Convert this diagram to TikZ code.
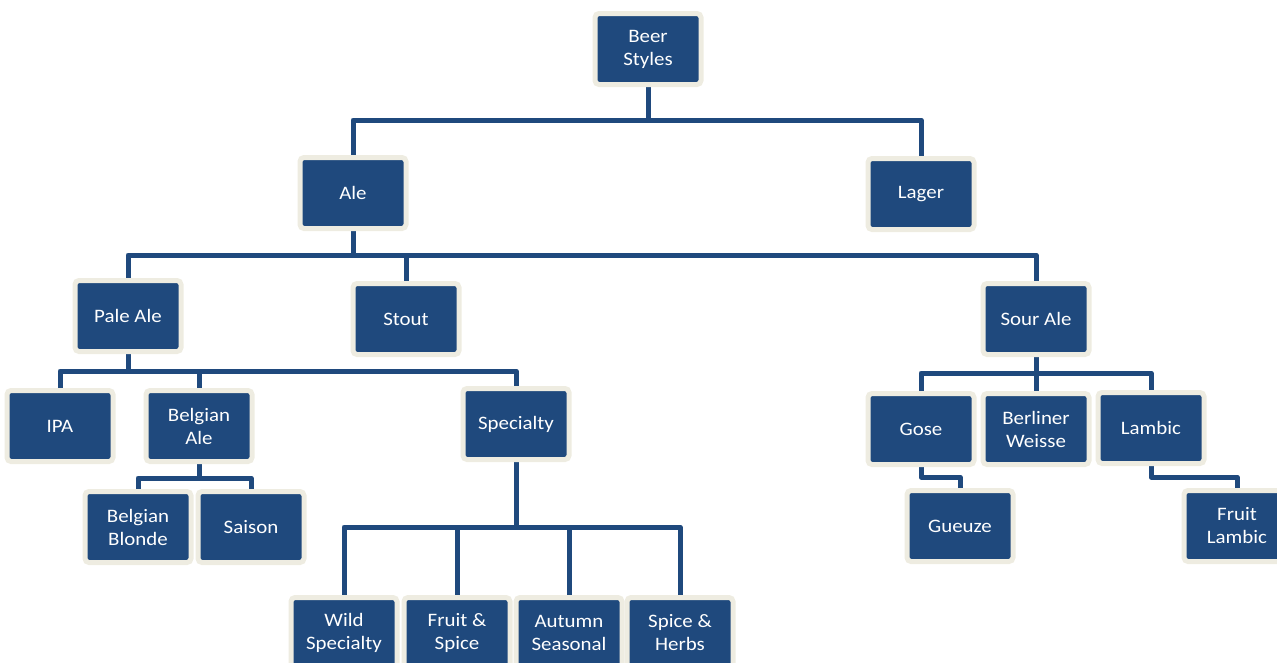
\documentclass[tikz,border=0pt]{standalone}
\usepackage{fontspec}
\setmainfont{Carlito}[FakeStretch=1.1]
\usetikzlibrary{backgrounds}
\definecolor{nodeblue}{HTML}{1F497D}
\definecolor{nodebeige}{HTML}{EEECE1}
\tikzset{
  box/.style={draw=nodebeige, line width=5pt, fill=nodeblue, rounded corners=4pt,
    minimum width=106pt, minimum height=71pt, inner sep=0pt, align=center,
    text=white, font=\fontsize{19}{23}\selectfont},
  conn/.style={draw=nodeblue, line width=5pt, line join=round}
}
\begin{document}
\begin{tikzpicture}[x=1pt,y=-1pt]
\useasboundingbox (0,0) rectangle (1277,662);
% nodes
\node[box] (beer) at (648,49) {Beer\\Styles};
\node[box] (ale) at (353,193) {Ale};
\node[box] (lager) at (921,194) {Lager};
\node[box] (pale) at (128,316) {Pale Ale};
\node[box] (stout) at (406,319) {Stout};
\node[box] (sour) at (1036,319) {Sour Ale};
\node[box] (ipa) at (60,426) {IPA};
\node[box] (belg) at (199,426) {Belgian\\Ale};
\node[box] (spec) at (516,424) {Specialty};
\node[box] (blonde) at (138,527) {Belgian\\Blonde};
\node[box] (saison) at (251,527) {Saison};
\node[box] (wild) at (344,633) {Wild\\Specialty};
\node[box] (fruitspice) at (457,633) {Fruit \&\\Spice};
\node[box] (autumn) at (569,633) {Autumn\\Seasonal};
\node[box] (spiceherbs) at (680,633) {Spice \&\\Herbs};
\node[box] (gose) at (921,429) {Gose};
\node[box] (berliner) at (1036,429) {Berliner\\Weisse};
\node[box] (lambic) at (1151,428) {Lambic};
\node[box] (gueuze) at (960,526) {Gueuze};
\node[box] (fruitlambic) at (1237,526) {Fruit\\Lambic};
% connectors
\begin{scope}[on background layer]
\draw[conn] (beer.south) -- (beer.south |- 0,120) -| (ale.north);
\draw[conn] (beer.south |- 0,120) -| (lager.north);
\draw[conn] (ale.south) -- (ale.south |- 0,255) -| (pale.north);
\draw[conn] (ale.south |- 0,255) -| (stout.north);
\draw[conn] (ale.south |- 0,255) -| (sour.north);
\draw[conn] (pale.south) -- (pale.south |- 0,371) -| (ipa.north);
\draw[conn] (pale.south |- 0,371) -| (belg.north);
\draw[conn] (pale.south |- 0,371) -| (spec.north);
\draw[conn] (belg.south) -- (belg.south |- 0,478) -| (blonde.north);
\draw[conn] (belg.south |- 0,478) -| (saison.north);
\draw[conn] (spec.south) -- (spec.south |- 0,527) -| (wild.north);
\draw[conn] (spec.south |- 0,527) -| (fruitspice.north);
\draw[conn] (spec.south |- 0,527) -| (autumn.north);
\draw[conn] (spec.south |- 0,527) -| (spiceherbs.north);
\draw[conn] (sour.south) -- (sour.south |- 0,373) -| (gose.north);
\draw[conn] (sour.south |- 0,373) -| (berliner.north);
\draw[conn] (sour.south |- 0,373) -| (lambic.north);
\draw[conn] (gose.south) -- (gose.south |- 0,477) -| (gueuze.north);
\draw[conn] (lambic.south) -- (lambic.south |- 0,477) -| (fruitlambic.north);
\end{scope}
\end{tikzpicture}
\end{document}
